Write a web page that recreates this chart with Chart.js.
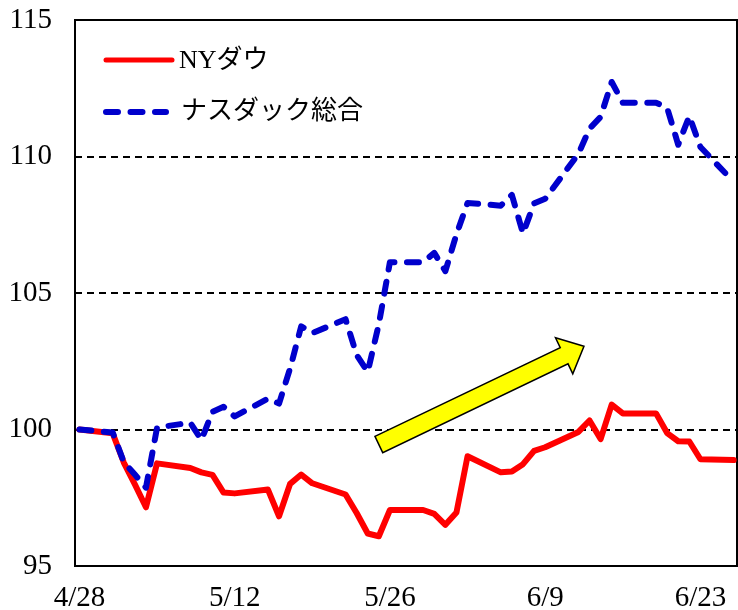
<!DOCTYPE html>
<html lang="ja">
<head>
<meta charset="utf-8">
<title>NYダウとナスダック総合</title>
<script src="https://cdn.jsdelivr.net/npm/chart.js@4.4.1/dist/chart.umd.min.js"></script>
<style>
  html, body { margin: 0; padding: 0; background: #fff; }
  #wrap { width: 738px; height: 610px; }
</style>
</head>
<body>
<div id="wrap"><canvas id="chart" width="738" height="610"></canvas></div>
<script>
// --- 1. データ (4/28 = 100) ---
const dates = [
  '4/28', '5/1', '5/2', '5/3', '5/4', '5/5',
  '5/8', '5/9', '5/10', '5/11', '5/12',
  '5/15', '5/16', '5/17', '5/18', '5/19',
  '5/22', '5/23', '5/24', '5/25', '5/26',
  '5/29', '5/30', '5/31', '6/1', '6/2',
  '6/5', '6/6', '6/7', '6/8', '6/9',
  '6/12', '6/13', '6/14', '6/15', '6/16',
  '6/19', '6/20', '6/21', '6/22', '6/23',
  '6/26'
];
const dowValues = [
  100.00, 99.86, 98.79, 97.99, 97.15, 98.76,
  98.59, 98.43, 98.34, 97.69, 97.66,
  97.80, 96.82, 98.01, 98.35, 98.03,
  97.62, 96.94, 96.19, 96.09, 97.05,
  97.05, 96.91, 96.51, 96.96, 99.02,
  98.43, 98.46, 98.73, 99.22, 99.35,
  99.91, 100.33, 99.65, 100.91, 100.59,
  100.59, 99.87, 99.57, 99.56, 98.91,
  98.88
];
const nasdaqValues = [
  100.00, 99.89, 98.81, 98.35, 97.87, 100.07,
  100.25, 99.62, 100.65, 100.83, 100.48,
  101.13, 100.95, 102.24, 103.78, 103.53,
  104.04, 102.73, 102.11, 103.86, 106.13,
  106.13, 106.47, 105.80, 107.15, 108.30,
  108.20, 108.59, 107.18, 108.28, 108.45,
  110.10, 111.02, 111.45, 112.73, 111.97,
  111.97, 111.78, 110.43, 111.48, 110.35,
  109.07
];
const seriesNames = ['NYダウ', 'ナスダック総合'];
const xTickLabels = ['4/28', '5/12', '5/26', '6/9', '6/23'];
const yTicks = [95, 100, 105, 110, 115];

// 矢印 (日付オフセット, 指数値)
const arrowStart = { day: 27, value: 99.45 };
const arrowEnd = { day: 45.5, value: 103.05 };

// --- 2. ヘルパー ---
function dayOffset(label) {
  const [m, d] = label.split('/').map(Number);
  return Math.round((Date.UTC(2023, m - 1, d) - Date.UTC(2023, 3, 28)) / 86400000);
}

const FONT = "'Liberation Serif', 'Noto Sans CJK JP', serif";
const RED = '#ff0000';
const BLUE = '#0000cc';
const NASDAQ_DASH = [12, 12.5];

const dowPoints = dates.map((d, i) => ({ x: dayOffset(d), y: dowValues[i] }));
const nasdaqPoints = dates.map((d, i) => ({ x: dayOffset(d), y: nasdaqValues[i] }));
const xTickDays = xTickLabels.map(dayOffset);

// --- 3. プラグイン (枠・凡例・矢印) ---
const framePlugin = {
  id: 'frame',
  beforeDatasetsDraw(chart) {
    const { ctx, chartArea: a } = chart;
    ctx.save();
    ctx.strokeStyle = '#000';
    ctx.lineWidth = 2;
    ctx.strokeRect(a.left, a.top, a.right - a.left, a.bottom - a.top);
    ctx.restore();
  }
};

const legendPlugin = {
  id: 'innerLegend',
  afterDatasetsDraw(chart) {
    const ctx = chart.ctx;
    ctx.save();
    ctx.lineCap = 'round';
    // NYダウ
    ctx.strokeStyle = RED;
    ctx.lineWidth = 5;
    ctx.beginPath();
    ctx.moveTo(106, 60);
    ctx.lineTo(172, 60);
    ctx.stroke();
    // ナスダック総合
    ctx.strokeStyle = BLUE;
    ctx.lineWidth = 6;
    ctx.setLineDash(NASDAQ_DASH);
    ctx.beginPath();
    ctx.moveTo(106, 112);
    ctx.lineTo(166, 112);
    ctx.stroke();
    ctx.setLineDash([]);

    ctx.fillStyle = '#000';
    ctx.font = '26px ' + FONT;
    ctx.textAlign = 'left';
    ctx.textBaseline = 'middle';
    ctx.fillText(seriesNames[0], 179, 61);
    ctx.fillText(seriesNames[1], 181, 112);
    ctx.restore();
  }
};

const arrowPlugin = {
  id: 'arrow',
  afterDatasetsDraw(chart) {
    const { ctx, scales: { x, y } } = chart;
    const x0 = x.getPixelForValue(arrowStart.day), y0 = y.getPixelForValue(arrowStart.value);
    const x1 = x.getPixelForValue(arrowEnd.day), y1 = y.getPixelForValue(arrowEnd.value);
    const len = Math.hypot(x1 - x0, y1 - y0);
    const sw = 9, hw = 20, hl = 22;
    ctx.save();
    ctx.translate(x0, y0);
    ctx.rotate(Math.atan2(y1 - y0, x1 - x0));
    ctx.beginPath();
    ctx.moveTo(0, -sw);
    ctx.lineTo(len - hl, -sw);
    ctx.lineTo(len - hl, -hw);
    ctx.lineTo(len, 0);
    ctx.lineTo(len - hl, hw);
    ctx.lineTo(len - hl, sw);
    ctx.lineTo(0, sw);
    ctx.closePath();
    ctx.fillStyle = '#ffff00';
    ctx.fill();
    ctx.strokeStyle = '#000';
    ctx.lineWidth = 1.5;
    ctx.lineJoin = 'miter';
    ctx.stroke();
    ctx.restore();
  }
};

// --- 4. チャート ---
new Chart(document.getElementById('chart'), {
  type: 'line',
  data: {
    datasets: [
      // 先頭のデータセットが上に描かれるのでナスダックを先に
      {
        label: seriesNames[1],
        data: nasdaqPoints,
        borderColor: BLUE,
        borderWidth: 6,
        borderDash: NASDAQ_DASH,
        borderCapStyle: 'round',
        borderJoinStyle: 'round',
        pointRadius: 0,
        tension: 0,
        fill: false
      },
      {
        label: seriesNames[0],
        data: dowPoints,
        borderColor: RED,
        borderWidth: 6,
        borderCapStyle: 'round',
        borderJoinStyle: 'round',
        pointRadius: 0,
        tension: 0,
        fill: false
      }
    ]
  },
  options: {
    responsive: false,
    devicePixelRatio: 1,
    animation: false,
    layout: { padding: { top: 20, right: 1, left: 0, bottom: 0 } },
    plugins: {
      legend: { display: false },
      tooltip: { enabled: false },
      title: { display: false }
    },
    scales: {
      x: {
        type: 'linear',
        min: -0.4,
        max: 59.3,
        afterBuildTicks: axis => { axis.ticks = xTickDays.map(v => ({ value: v })); },
        afterFit: axis => {
          axis.height = 44;
          axis.paddingLeft = 0;
          axis.paddingRight = 0;
        },
        grid: { display: false, drawTicks: false },
        border: { display: false },
        ticks: {
          autoSkip: false,
          maxRotation: 0,
          padding: 15,
          color: '#000',
          font: { family: FONT, size: 29 },
          callback: (value, index) => xTickLabels[index]
        }
      },
      y: {
        min: 95,
        max: 115,
        afterBuildTicks: axis => { axis.ticks = yTicks.map(v => ({ value: v })); },
        afterFit: axis => {
          axis.width = 75;
          axis.paddingTop = 0;
          axis.paddingBottom = 0;
        },
        grid: {
          drawTicks: false,
          lineWidth: 2,
          color: c => (c.tick && (c.tick.value === 95 || c.tick.value === 115)) ? 'rgba(0,0,0,0)' : '#000'
        },
        border: { display: false, dash: [7, 5] },
        ticks: {
          padding: 23,
          color: '#000',
          font: { family: FONT, size: 29 },
          callback: value => String(value)
        }
      }
    }
  },
  plugins: [framePlugin, legendPlugin, arrowPlugin]
});
</script>
</body>
</html>
